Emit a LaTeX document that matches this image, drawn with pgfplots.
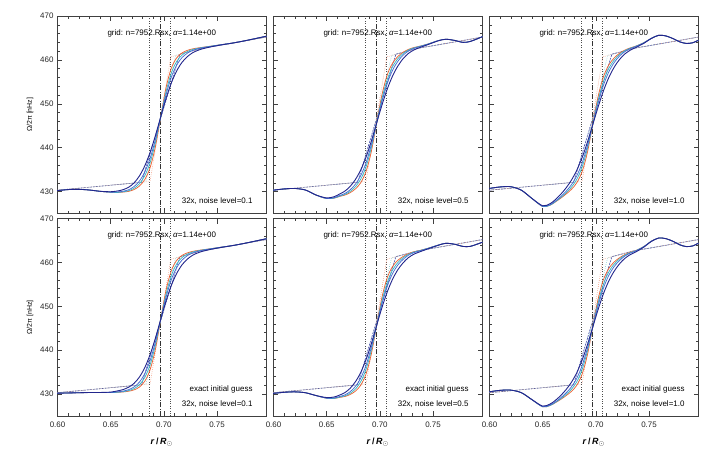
\documentclass[border=0pt]{standalone}
\usepackage{fontspec}
\setmainfont{Liberation Sans}
\usepackage{pgfplots}
\usepackage{pgfplotstable}
\pgfplotsset{compat=1.18}

\definecolor{cOr}{RGB}{236,98,52}
\definecolor{cCy}{RGB}{62,184,192}
\definecolor{cBl}{RGB}{72,108,212}
\definecolor{cNv}{RGB}{34,38,140}

% r, orange, cyan, blue, navy (inverted profiles)
\pgfplotstableread{
r o c b n
0.5995 430.20 430.20 430.20 430.20
0.610 430.45 430.45 430.45 430.45
0.620 430.50 430.50 430.50 430.50
0.630 430.35 430.35 430.35 430.35
0.640 430.05 430.05 430.05 430.06
0.650 429.85 429.85 429.86 429.96
0.657 429.80 429.81 429.92 430.15
0.662 429.89 429.96 430.09 430.46
0.667 430.05 430.20 430.43 431.00
0.672 430.46 430.75 431.14 431.98
0.677 431.25 431.78 432.40 433.55
0.682 432.72 433.58 434.44 435.83
0.687 435.41 436.55 437.52 438.89
0.692 440.20 441.12 441.82 442.71
0.697 447.00 447.00 447.00 447.00
0.702 453.63 452.73 452.04 451.18
0.707 458.11 457.01 456.07 454.74
0.712 460.45 459.63 458.80 457.47
0.717 461.58 461.08 460.50 459.42
0.722 462.16 461.89 461.52 460.73
0.727 462.51 462.37 462.15 461.62
0.732 462.72 462.64 462.52 462.18
0.737 462.89 462.85 462.79 462.57
0.745 463.15 463.15 463.11 463.01
0.755 463.50 463.50 463.50 463.45
0.765 463.85 463.85 463.85 463.84
0.775 464.30 464.30 464.30 464.30
0.785 464.80 464.80 464.80 464.80
0.7965 465.40 465.40 465.40 465.40
}\tabA
\pgfplotstableread{
r o c b n
0.5995 430.30 430.30 430.30 430.30
0.610 430.60 430.60 430.60 430.60
0.620 430.70 430.70 430.70 430.70
0.630 430.35 430.35 430.35 430.35
0.640 429.20 429.20 429.20 429.21
0.650 428.40 428.40 428.42 428.55
0.657 428.50 428.51 428.61 428.83
0.662 428.88 428.95 429.08 429.42
0.667 429.19 429.33 429.55 430.08
0.672 429.74 430.01 430.38 431.16
0.677 430.61 431.10 431.68 432.75
0.682 432.01 432.82 433.63 434.93
0.687 434.58 435.65 436.57 437.86
0.692 439.16 440.03 440.69 441.52
0.697 445.65 445.65 445.65 445.65
0.702 452.10 451.24 450.58 449.75
0.707 456.64 455.58 454.67 453.39
0.712 459.29 458.48 457.67 456.37
0.717 460.79 460.29 459.71 458.64
0.722 461.76 461.48 461.11 460.32
0.727 462.40 462.26 462.04 461.50
0.732 462.82 462.74 462.62 462.26
0.737 463.09 463.05 462.98 462.76
0.745 463.60 463.60 463.56 463.46
0.755 464.40 464.40 464.40 464.35
0.762 464.70 464.70 464.70 464.70
0.770 464.45 464.45 464.45 464.45
0.778 464.00 464.00 464.00 464.00
0.785 464.20 464.20 464.20 464.20
0.7965 465.30 465.30 465.30 465.30
}\tabB
\pgfplotstableread{
r o c b n
0.5995 430.70 430.70 430.70 430.70
0.610 431.05 431.05 431.05 431.05
0.620 431.10 431.10 431.10 431.10
0.630 430.30 430.30 430.30 430.30
0.640 428.40 428.40 428.40 428.41
0.650 426.60 426.60 426.62 426.76
0.657 426.90 426.91 427.02 427.24
0.662 427.64 427.71 427.83 428.19
0.667 428.49 428.63 428.85 429.39
0.672 429.44 429.71 430.07 430.84
0.677 430.50 430.98 431.55 432.60
0.682 431.98 432.77 433.56 434.84
0.687 434.50 435.54 436.44 437.70
0.692 438.89 439.74 440.39 441.21
0.697 445.20 445.20 445.20 445.20
0.702 451.51 450.66 450.01 449.19
0.707 456.08 455.03 454.13 452.87
0.712 458.80 458.00 457.19 455.90
0.717 460.39 459.89 459.32 458.24
0.722 461.46 461.18 460.81 460.02
0.727 462.20 462.06 461.84 461.30
0.732 462.71 462.64 462.52 462.16
0.737 463.09 463.05 462.98 462.76
0.745 463.90 463.90 463.86 463.76
0.752 464.90 464.90 464.90 464.85
0.759 465.60 465.60 465.60 465.60
0.766 465.45 465.45 465.45 465.45
0.773 464.80 464.80 464.80 464.80
0.779 464.10 464.10 464.10 464.10
0.785 463.75 463.75 463.75 463.75
0.791 463.90 463.90 463.90 463.90
0.7965 464.50 464.50 464.50 464.50
}\tabC
\pgfplotstableread{
r o c b n
0.5995 430.20 430.20 430.20 430.20
0.610 430.25 430.25 430.25 430.25
0.620 430.30 430.30 430.30 430.30
0.630 430.35 430.35 430.35 430.35
0.640 430.35 430.35 430.35 430.36
0.650 430.35 430.35 430.36 430.45
0.657 430.40 430.41 430.52 430.75
0.662 430.49 430.56 430.69 431.05
0.667 430.65 430.80 431.02 431.58
0.672 430.96 431.24 431.62 432.45
0.677 431.59 432.12 432.73 433.87
0.682 432.91 433.76 434.62 436.00
0.687 435.50 436.63 437.60 438.97
0.692 440.20 441.12 441.82 442.71
0.697 447.00 447.00 447.00 447.00
0.702 453.63 452.73 452.04 451.18
0.707 458.11 457.01 456.07 454.74
0.712 460.45 459.63 458.80 457.47
0.717 461.58 461.08 460.50 459.42
0.722 462.16 461.89 461.52 460.73
0.727 462.51 462.37 462.15 461.62
0.732 462.72 462.64 462.52 462.18
0.737 462.89 462.85 462.79 462.57
0.745 463.15 463.15 463.11 463.01
0.755 463.50 463.50 463.50 463.45
0.765 463.85 463.85 463.85 463.84
0.775 464.30 464.30 464.30 464.30
0.785 464.80 464.80 464.80 464.80
0.7965 465.40 465.40 465.40 465.40
}\tabD
\pgfplotstableread{
r o c b n
0.5995 430.15 430.15 430.15 430.15
0.610 430.40 430.40 430.40 430.40
0.620 430.50 430.50 430.50 430.50
0.630 430.30 430.30 430.30 430.30
0.640 429.65 429.65 429.65 429.66
0.650 429.05 429.05 429.07 429.20
0.657 429.00 429.01 429.11 429.33
0.662 429.23 429.30 429.43 429.76
0.667 429.44 429.58 429.80 430.32
0.672 429.89 430.16 430.53 431.30
0.677 430.66 431.15 431.73 432.80
0.682 432.01 432.82 433.63 434.93
0.687 434.58 435.65 436.57 437.86
0.692 439.16 440.03 440.69 441.52
0.697 445.65 445.65 445.65 445.65
0.702 452.10 451.24 450.58 449.75
0.707 456.55 455.50 454.59 453.31
0.712 459.10 458.30 457.49 456.20
0.717 460.50 460.00 459.43 458.37
0.722 461.36 461.09 460.72 459.94
0.727 462.00 461.86 461.65 461.11
0.732 462.42 462.34 462.22 461.87
0.737 462.69 462.65 462.58 462.36
0.745 463.20 463.20 463.16 463.06
0.755 463.95 463.95 463.95 463.90
0.762 464.35 464.35 464.35 464.35
0.770 464.15 464.15 464.15 464.15
0.778 463.65 463.65 463.65 463.65
0.785 463.65 463.65 463.65 463.65
0.7965 464.60 464.60 464.60 464.60
}\tabE
\pgfplotstableread{
r o c b n
0.5995 430.50 430.50 430.50 430.50
0.610 430.85 430.85 430.85 430.85
0.620 430.90 430.90 430.90 430.90
0.630 430.30 430.30 430.30 430.30
0.640 428.70 428.70 428.70 428.71
0.650 427.10 427.10 427.12 427.26
0.657 427.40 427.41 427.52 427.74
0.662 428.04 428.11 428.23 428.58
0.667 428.79 428.93 429.15 429.68
0.672 429.64 429.91 430.26 431.03
0.677 430.60 431.08 431.64 432.69
0.682 431.98 432.77 433.56 434.84
0.687 434.50 435.54 436.44 437.70
0.692 438.89 439.74 440.39 441.21
0.697 445.20 445.20 445.20 445.20
0.702 451.51 450.66 450.01 449.19
0.707 455.99 454.95 454.05 452.79
0.712 458.56 457.77 456.97 455.69
0.717 460.05 459.55 458.99 457.92
0.722 461.01 460.74 460.37 459.60
0.727 461.75 461.61 461.40 460.87
0.732 462.26 462.19 462.07 461.72
0.737 462.64 462.60 462.53 462.31
0.745 463.60 463.60 463.56 463.46
0.752 464.80 464.80 464.80 464.75
0.759 465.55 465.55 465.55 465.55
0.766 465.40 465.40 465.40 465.40
0.773 464.75 464.75 464.75 464.75
0.779 464.00 464.00 464.00 464.00
0.785 463.60 463.60 463.60 463.60
0.791 463.75 463.75 463.75 463.75
0.7965 464.40 464.40 464.40 464.40
}\tabF

\pgfplotsset{
  panel/.style={
    scale only axis, width=209.5bp, height=197.5bp,
    anchor=south west,
    xmin=0.5995, xmax=0.7965, ymin=425, ymax=470,
    xtick={0.6,0.65,0.7,0.75}, minor x tick num=4,
    ytick={430,440,450,460,470}, minor y tick num=4,
    xticklabels={}, yticklabels={},
    tick align=inside,
    major tick length=5bp, minor tick length=2.5bp,
    axis line style={line width=0.7bp, black!75},
    every tick/.style={black!75, line width=0.5bp},
    ticklabel style={font=\fontsize{8}{9}\selectfont, black!85},
    xticklabel style={yshift=-2.5bp},
  },
  yleft/.style={
    yticklabels={430,440,450,460,470},
    ylabel={Ω/2π [nHz]},
    ylabel style={at={(axis description cs:-0.129,0.5)}, anchor=center,
      font=\fontsize{7}{8}\selectfont},
  },
  xbottom/.style={
    xticklabels={0.60,0.65,0.70,0.75},
    xlabel={\textbf{\textit{r}\,/\,\textit{R}}$_{\odot}$},
    xlabel style={at={(axis description cs:0.5,-0.132)}, anchor=center,
      font=\fontsize{9}{10}\selectfont},
  },
  ex/.style={line width=0.55bp, dash pattern=on 0.6bp off 1.4bp},
  sol/.style={line width=0.75bp, smooth},
}

\newcommand{\refs}{%
  \addplot[gray!60!black, line width=0.5bp, dash pattern=on 0.6bp off 1.8bp] coordinates {(0.6866,425) (0.6866,470)};
  \addplot[gray!60!black, line width=0.5bp, dash pattern=on 0.6bp off 1.8bp] coordinates {(0.7064,425) (0.7064,470)};
  \addplot[black!80, line width=0.6bp, dash pattern=on 5bp off 1.5bp on 0.8bp off 1.5bp] coordinates {(0.6965,425) (0.6965,470)};
  \addplot[cNv!85!white, line width=0.6bp, dash pattern=on 1.8bp off 1.2bp] coordinates {(0.5995,430.3) (0.679,432.1) (0.715,461.3) (0.735,462.6) (0.7965,465.2)};
  \addplot[cBl!75!white, ex] coordinates {(0.5995,430.3) (0.679,432.1) (0.715,461.3) (0.735,462.6) (0.7965,465.2)};
  \addplot[cCy!75!white, ex] coordinates {(0.5995,430.3) (0.683,432.2) (0.711,461.0) (0.735,462.6) (0.7965,465.2)};
  \addplot[cOr!75!white, ex] coordinates {(0.5995,430.3) (0.687,432.3) (0.7065,460.7) (0.735,462.6) (0.7965,465.2)};
}
\newcommand{\curves}[1]{%
  \addplot[cOr, sol] table[x=r, y=o] {#1};
  \addplot[cCy, sol] table[x=r, y=c] {#1};
  \addplot[cBl, sol] table[x=r, y=b] {#1};
  \addplot[cNv, sol, line width=0.9bp] table[x=r, y=n] {#1};
}
\newcommand{\grid}{\node[font=\fontsize{8}{9}\selectfont] at (rel axis cs:0.5,0.914) {grid: n=7952.Rsx, \textit{α}=1.14e+00};}
\newcommand{\noise}[1]{\node[font=\fontsize{8}{9}\selectfont, anchor=east] at (rel axis cs:0.95,0.061) {32x, noise level=#1};}
\newcommand{\exact}{\node[font=\fontsize{8}{9}\selectfont, anchor=east] at (rel axis cs:0.95,0.137) {exact initial guess};}

\begin{document}
\begin{tikzpicture}
\path[use as bounding box] (0,0) rectangle (714bp,452bp);

\begin{axis}[panel, yleft, at={(57bp,238.5bp)}]
\refs \curves{\tabA} \grid \noise{0.1}
\end{axis}
\begin{axis}[panel, at={(273bp,238.5bp)}]
\refs \curves{\tabB} \grid \noise{0.5}
\end{axis}
\begin{axis}[panel, at={(489bp,238.5bp)}]
\refs \curves{\tabC} \grid \noise{1.0}
\end{axis}

\begin{axis}[panel, yleft, xbottom, at={(57bp,36bp)}]
\refs \curves{\tabD} \grid \exact \noise{0.1}
\end{axis}
\begin{axis}[panel, xbottom, at={(273bp,36bp)}]
\refs \curves{\tabE} \grid \exact \noise{0.5}
\end{axis}
\begin{axis}[panel, xbottom, at={(489bp,36bp)}]
\refs \curves{\tabF} \grid \exact \noise{1.0}
\end{axis}
\end{tikzpicture}
\end{document}
